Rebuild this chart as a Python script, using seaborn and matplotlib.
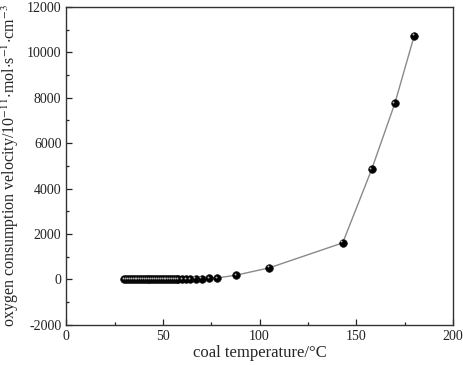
import numpy as np
import pandas as pd
import seaborn as sns
import matplotlib.pyplot as plt
from matplotlib.ticker import MultipleLocator
import matplotlib.transforms as mtransforms

# coal temperature (deg C) and oxygen consumption velocity (1e-11 mol/s/cm3)
temps = [30, 31, 32, 33, 34, 35, 36, 37, 38, 39, 40, 41, 42, 43, 44, 45,
         46, 47, 48, 49, 50, 51, 52, 53, 54, 55, 56, 57, 58, 60, 62, 64,
         67, 70, 74, 78, 88, 105, 143, 158, 170, 180]
velocity = [2, 2, 2, 3, 3, 3, 3, 4, 4, 4, 4, 5, 5, 5, 6, 6,
            6, 7, 7, 8, 8, 9, 9, 10, 10, 11, 12, 12, 13, 15, 17, 20,
            25, 32, 45, 65, 190, 510, 1610, 4850, 7760, 10730]

df = pd.DataFrame({'temp': temps, 'vel': velocity})

sns.set_style('ticks')
plt.rcParams['font.family'] = ['Liberation Serif', 'DejaVu Serif']
plt.rcParams['mathtext.fontset'] = 'stix'
plt.rcParams['axes.unicode_minus'] = False

fig = plt.figure(figsize=(4.64, 3.65), dpi=100)
ax = fig.add_axes([0.143, 0.11, 0.833, 0.871])

sns.lineplot(data=df, x='temp', y='vel', ax=ax, color='#8a8a8a', linewidth=1.0,
             sort=False, zorder=1)
sns.scatterplot(data=df, x='temp', y='vel', ax=ax, color='black', s=30,
                edgecolor='#111111', linewidth=0.5, zorder=2)
# little highlight to mimic the shaded balls
hl = mtransforms.offset_copy(ax.transData, fig=fig, x=-1.0, y=1.0, units='points')
ax.scatter(df['temp'], df['vel'], s=2, color='#b0b0b0', transform=hl, zorder=3,
           linewidths=0)

ax.set_xlim(0, 200)
ax.set_ylim(-2000, 12000)
ax.xaxis.set_major_locator(MultipleLocator(50))
ax.xaxis.set_minor_locator(MultipleLocator(25))
ax.yaxis.set_major_locator(MultipleLocator(2000))
ax.yaxis.set_minor_locator(MultipleLocator(1000))
ax.tick_params(which='both', direction='in', top=False, right=False,
               labelsize=10, colors='#222222')
ax.tick_params(which='major', length=4.5, width=0.9)
ax.tick_params(which='minor', length=2.5, width=0.9)
for sp in ax.spines.values():
    sp.set_linewidth(1.0)
    sp.set_color('#333333')

ax.set_xlabel('coal temperature/\u00b0C', fontsize=12, labelpad=2)
ax.set_ylabel(r'oxygen consumption velocity/10$^{-11}$$\cdot$mol$\cdot$s$^{-1}$$\cdot$cm$^{-3}$',
              fontsize=11.5, labelpad=4)

fig.savefig('out.png', dpi=100)
